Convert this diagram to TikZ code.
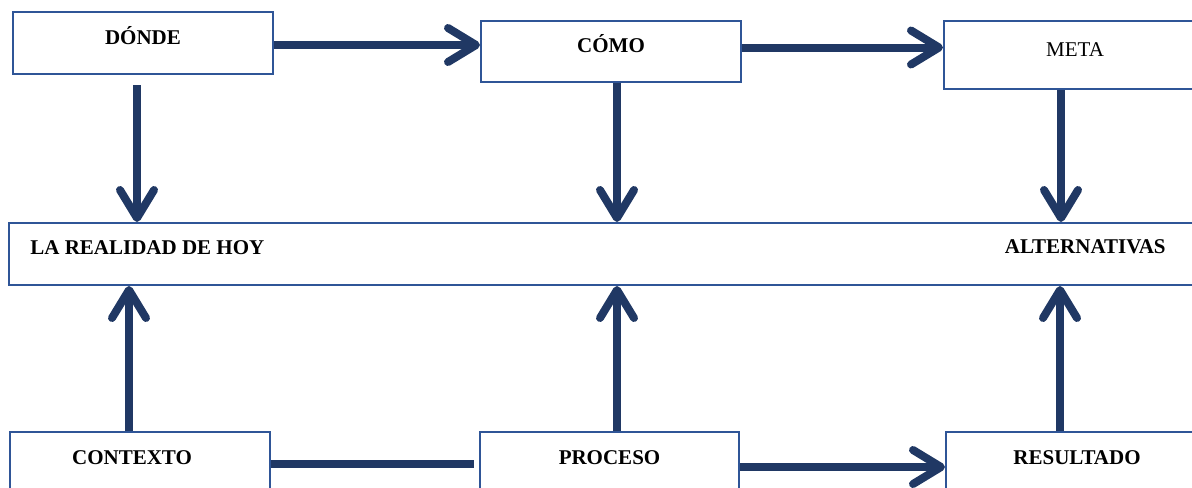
\documentclass[tikz,border=0pt]{standalone}
\usepackage{fontspec}
\setmainfont{Liberation Serif}
\usetikzlibrary{arrows.meta}
\definecolor{navy}{RGB}{32,56,100}
\definecolor{boxblue}{RGB}{47,85,151}

\begin{document}
\begin{tikzpicture}[x=0.5pt,y=-0.5pt,
	lbl/.style={font=\fontsize{10.5}{12}\selectfont\bfseries},
	box/.style={lbl,draw=boxblue,line width=1pt,anchor=north west,inner sep=0pt,
		minimum width=130pt,minimum height=31pt,text height=7pt,text depth=6pt},
	flow/.style={draw=navy,line width=4pt,-{Straight Barb[length=14pt,width=17pt,round]}},
	link/.style={draw=navy,line width=4pt}]
				\useasboundingbox (0,0) rectangle (1192,487);
				\clip (0,0) rectangle (1192,487);
				% fila de arriba
				\node[box] (donde) at (12,11) {DÓNDE};
				\node[box,minimum height=30.5pt] (como) at (480,20) {CÓMO};
				\node[box,minimum width=131pt,minimum height=34pt,font=\fontsize{10.5}{12}\selectfont] (meta) at (943,20) {META};
				% caja del medio
				\node[box,minimum width=600pt] (hoy) at (8,222) {};
				\node[lbl,anchor=base west,inner sep=0pt] (realidad) at (30,254) {LA REALIDAD DE HOY};
				\node[lbl,anchor=base east,inner sep=0pt] (alternativas) at (1166,253) {ALTERNATIVAS};
				% fila de abajo
				\node[box] (contexto) at (9,431) {CONTEXTO\hspace*{8pt}};
				\node[box,minimum width=129.5pt] (proceso) at (479,431) {PROCESO};
				\node[box,minimum width=131pt] (resultado) at (945,431) {RESULTADO};
				% flechas
				\draw[flow] ([yshift=-1pt]donde.east) -- ([yshift=-1pt]donde.east -| como.west);
				\draw[flow] ([yshift=2pt]como.east) -- ([yshift=2pt]como.east -| meta.west);
				\draw[flow] ([xshift=-3pt,yshift=-5pt]donde.south) -- ([xshift=-3pt]donde.south |- hoy.north);
				\draw[flow] ([xshift=3pt]como.south) -- ([xshift=3pt]como.south |- hoy.north);
				\draw[flow] ([xshift=-7pt]meta.south) -- ([xshift=-7pt]meta.south |- hoy.north);
				\draw[flow] ([xshift=-5.5pt]contexto.north) -- ([xshift=-5.5pt]contexto.north |- hoy.south);
				\draw[flow] ([xshift=3.75pt]proceso.north) -- ([xshift=3.75pt]proceso.north |- hoy.south);
				\draw[flow] ([xshift=-8.5pt]resultado.north) -- ([xshift=-8.5pt]resultado.north |- hoy.south);
				\draw[link] ([yshift=-0.5pt]contexto.east) -- ([xshift=-2.5pt,yshift=-0.5pt]contexto.east -| proceso.west);
				\draw[flow] ([yshift=-2pt]proceso.east) -- ([yshift=-2pt]proceso.east -| resultado.west);
			\end{tikzpicture}
\end{document}
